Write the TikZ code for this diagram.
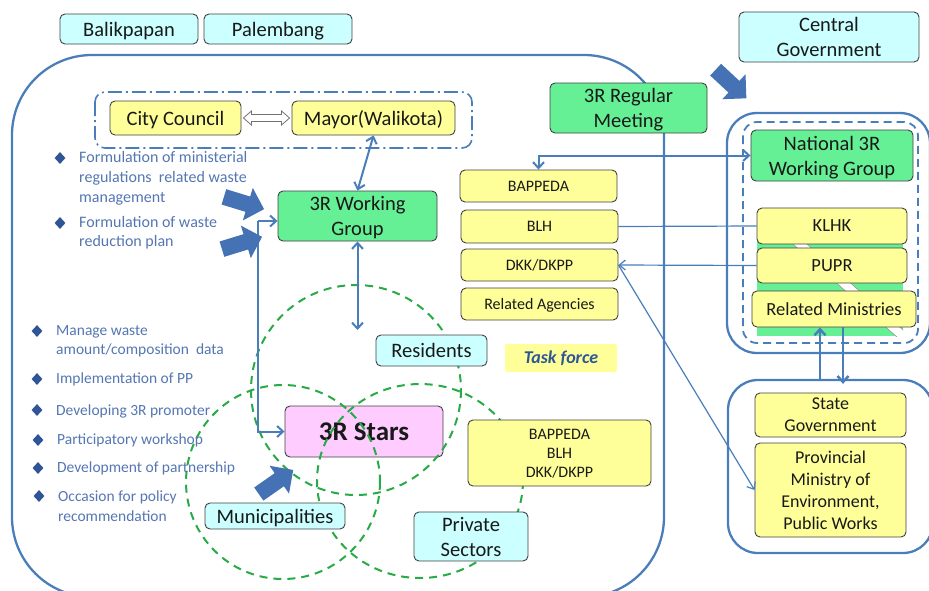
\documentclass[tikz,border=0pt]{standalone}
\usepackage{fontspec}
\setmainfont{Carlito}
\usetikzlibrary{arrows.meta,calc,shapes.geometric}

\definecolor{lnblue}{RGB}{74,126,187}
\definecolor{arrfill}{RGB}{68,114,180}
\definecolor{gfill}{RGB}{102,240,150}
\definecolor{yfill}{RGB}{255,255,153}
\definecolor{cfill}{RGB}{204,255,255}
\definecolor{pfill}{RGB}{255,204,255}
\definecolor{dgreen}{RGB}{40,170,70}
\definecolor{bultext}{RGB}{84,118,178}
\definecolor{bulmark}{RGB}{47,85,151}
\definecolor{tfblue}{RGB}{47,85,151}

\tikzset{
  box/.style={draw=black!75, line width=0.9pt, rounded corners=5pt, align=center,
              inner sep=0pt, text depth=0pt, text=black!90, font=\fontsize{20.5}{25}\selectfont},
  cbox/.style={box, fill=cfill},
  ybox/.style={box, fill=yfill},
  gbox/.style={box, fill=gfill},
  pbox/.style={box, fill=pfill, font=\fontsize{27}{30}\selectfont\bfseries},
  sbox/.style={box, fill=yfill, font=\fontsize{16}{19}\selectfont},
  rbox/.style={box, fill=yfill, font=\fontsize{18.5}{22}\selectfont},
  taskbox/.style={fill=yfill, rounded corners=2pt, inner sep=0pt, text=tfblue,
                  font=\fontsize{18}{20}\selectfont\bfseries\itshape},
  frame/.style={draw=lnblue, line width=2.3pt},
  framenode/.style={frame, inner sep=0pt, rounded corners=30pt},
  link/.style={draw=lnblue, line width=2pt, >={Straight Barb[length=6pt,width=11pt]}},
  thinlink/.style={draw=lnblue, line width=1.2pt, >={Straight Barb[length=6pt,width=10pt]}},
  vennline/.style={draw=dgreen, line width=2pt, dash pattern=on 8pt off 6pt},
  bul/.style={anchor=west, align=left, inner sep=0pt, text=bultext,
              font=\fontsize{16}{20}\selectfont},
  bultwo/.style={bul, font=\fontsize{15.5}{19}\selectfont},
  dmd/.style={diamond, fill=bulmark, inner sep=0pt, minimum width=11pt, minimum height=12pt},
  fatarrow/.pic={\fill[arrfill] (-21,-8) -- (4,-8) -- (4,-17) -- (21,0) -- (4,17) -- (4,8) -- (-21,8) -- cycle;}
}

\begin{document}
\begin{tikzpicture}[x=1pt,y=-1pt]
\useasboundingbox (0,0) rectangle (929,590);

\begin{scope}
  \clip (0,0) rectangle (929,590);
  % city frame
  \draw[frame, rounded corners=80pt] (12,55) rectangle (664,597);
  % national and provincial frames
  \node[framenode, minimum width=203pt, minimum height=240pt] (upframe) at (828.5,233) {};
  \node[framenode, minimum width=205pt, minimum height=173pt] (lowframe) at (830.5,466.5) {};
\end{scope}

% green backing behind the ministries
\begin{scope}
  \clip (757,238) rectangle (903,336);
  \fill[gfill] (757,238) rectangle (903,336);
  \filldraw[fill=white, draw=black!45, line width=0.5pt]
    (784,236) -- (798,236) -- (912,338) -- (898,338) -- cycle;
\end{scope}

% dashed groups
\draw[lnblue, line width=1.8pt, dash pattern=on 8pt off 5pt, rounded corners=14pt]
  (743,122) rectangle (918,343);
\draw[lnblue, line width=1.6pt, dash pattern=on 14pt off 4pt on 2pt off 4pt, rounded corners=10pt]
  (95,92) rectangle (472,148);

% 3R Stars sits beneath the circles
\node[pbox, minimum width=158pt, minimum height=51pt] (stars) at (364,431.5) {3R Stars};

% overlapping circles
\draw[vennline] (356,390) circle[radius=105];
\draw[vennline] (283,482) circle[radius=97];
\draw[vennline] (420,481) ellipse[x radius=103, y radius=97];

% boxes
\node[cbox, minimum width=138pt, minimum height=30pt] (bal) at (129,29) {Balikpapan};
\node[cbox, minimum width=148pt, minimum height=30pt] (pal) at (278,29) {Palembang};
\node[cbox, minimum width=180pt, minimum height=50pt] (cgov) at (829,37) {Central\\Government};
\node[ybox, minimum width=131pt, minimum height=34pt] (cc) at (175.5,118) {City Council};
\node[ybox, minimum width=163pt, minimum height=34pt] (mayor) at (373.5,118) {Mayor(Walikota)};
\node[gbox, minimum width=159pt, minimum height=50pt] (wg) at (357.5,216) {3R Working\\Group};
\node[gbox, minimum width=157pt, minimum height=50pt] (meet) at (628.5,108) {3R Regular\\Meeting};
\node[sbox, minimum width=157pt, minimum height=32pt] (bap) at (538.5,186) {BAPPEDA};
\node[sbox, minimum width=157pt, minimum height=33pt] (blh) at (539.5,226.5) {BLH};
\node[sbox, minimum width=157pt, minimum height=32pt] (dkk) at (539.5,265) {DKK/DKPP};
\node[sbox, minimum width=157pt, minimum height=32pt] (rag) at (539.5,304) {Related Agencies};
\node[gbox, minimum width=162pt, minimum height=51pt] (nwg) at (832,155.5) {National 3R\\Working Group};
\node[rbox, minimum width=150pt, minimum height=36pt] (klhk) at (832,226) {KLHK};
\node[rbox, minimum width=150pt, minimum height=35pt] (pupr) at (832,265.5) {PUPR};
\node[rbox, minimum width=164pt, minimum height=36pt] (rmin) at (834,309) {Related Ministries};
\node[rbox, font=\fontsize{18}{22}\selectfont, minimum width=151pt, minimum height=44pt] (state) at (830.5,415) {State\\Government};
\node[rbox, font=\fontsize{18}{22}\selectfont, minimum width=151pt, minimum height=94pt] (prov) at (830.5,490) {Provincial\\Ministry of\\Environment,\\Public Works};
\node[cbox, minimum width=111pt, minimum height=31pt] (res) at (431.5,350.5) {Residents};
\node[taskbox, minimum width=112pt, minimum height=28pt] (task) at (561,358) {Task force};
\node[sbox, minimum width=183pt, minimum height=66pt] (tf) at (559.5,453) {BAPPEDA\\BLH\\DKK/DKPP};
\node[cbox, minimum width=140pt, minimum height=26pt] (muni) at (275,516) {Municipalities};
\node[cbox, minimum width=114pt, minimum height=49pt] (priv) at (471,536.5) {Private\\Sectors};

% two-way hollow arrow between council and mayor
\draw[draw=black!55, fill=white, line width=0.8pt]
  ($(cc.east)+(2,0)$) -- ++(8,-7) -- ++(0,3.5) -- ($(mayor.west)+(-10,-3.5)$)
  -- ++(0,-3.5) -- ++(8,7) -- ++(-8,7) -- ++(0,-3.5)
  -- ($(cc.east)+(10,3.5)$) -- ++(0,3.5) -- cycle;

% connectors
\draw[link,<->] (mayor.south) -- (wg.north);
\coordinate (wgfree) at (357.5,330);
\draw[link,<->] (wg.south) -- (wgfree);
\coordinate (fork) at (258,221);
\draw[link,->] (fork) -- (fork -| wg.west);
\draw[link,->] (fork) |- (stars.west);
\draw[link,<->] (bap.north) |- (nwg.west);
\draw[thinlink] (blh.east) -- (klhk.west);
\draw[thinlink,->] (pupr.west) -- (dkk.east);
\draw[thinlink,->] (dkk.east) -- (prov.west);
\path (rmin.south) ++(-14,0) coordinate (rmA) ++(23,0) coordinate (rmB);
\draw[link,line width=2.5pt,->] (rmA |- lowframe.north) -- (rmA);
\draw[link,line width=2.5pt,->] (rmB) -- ($(rmB |- lowframe.north)+(0,5)$);

% block arrows
\pic[rotate=-17] at (244,203) {fatarrow};
\pic[rotate=17] at (242,243) {fatarrow};
\pic[rotate=35] at (276,482) {fatarrow};
\pic[rotate=-43] at (731,84) {fatarrow};

% activity lists
\node[dmd] (d1) at (60,158) {};
\node[bul] (b1) at (79,178) {Formulation of ministerial\\regulations\ \ related waste\\management};
\node[dmd] (d2) at (60,223) {};
\node[bul, font=\fontsize{16}{19}\selectfont] (b2) at (79,232.5) {Formulation of waste\\reduction plan};

\node[dmd] (d3) at (37,331) {};
\node[bultwo] (b3) at (56,341.5) {Manage waste\\amount/composition\ \ data};
\node[dmd] (d4) at (37,379) {};
\node[bultwo] (b4) at (56,379) {Implementation of PP};
\node[dmd] (d5) at (37,410) {};
\node[bultwo] (b5) at (56,411) {Developing 3R promoter};
\node[dmd] (d6) at (38,440) {};
\node[bultwo] (b6) at (57,440) {Participatory workshop};
\node[dmd] (d7) at (38,468) {};
\node[bultwo] (b7) at (57,468) {Development of partnership};
\node[dmd] (d8) at (39,496) {};
\node[bultwo, font=\fontsize{15.5}{20}\selectfont] (b8) at (58,506) {Occasion for policy\\recommendation};

\end{tikzpicture}
\end{document}
